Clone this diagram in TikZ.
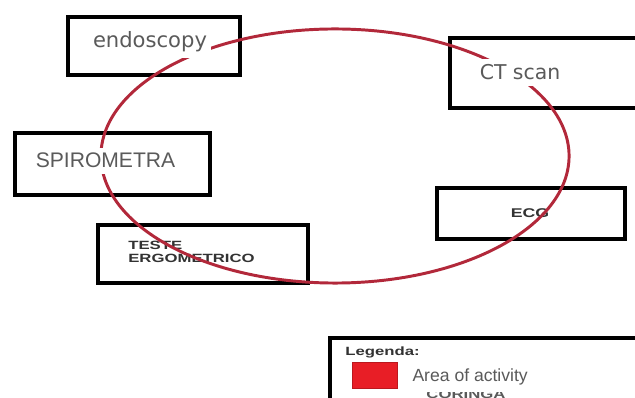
\documentclass[tikz,border=0pt]{standalone}
\usepackage{fontspec}
\setmainfont{Liberation Sans}
\newfontfamily\verdanaish{DejaVu Sans}
\newfontfamily\widebold[FakeStretch=1.4]{Liberation Sans Bold}
\usepackage{tikz}
\usetikzlibrary{positioning}
\usepackage{xcolor}
\definecolor{ringRed}{RGB}{178, 40, 58}
\definecolor{swatchRed}{RGB}{232, 30, 38}
\definecolor{textGray}{RGB}{90, 90, 90}
\definecolor{boldGray}{RGB}{50, 50, 50}

\begin{document}
\begin{tikzpicture}[x=0.025cm, y=-0.025cm,
    box/.style={draw=black, line width=2.3pt, inner sep=0pt},
    label/.style={text=textGray, inner sep=0pt},
    cover/.style={fill=white, inner xsep=3pt, inner ysep=4pt},
    tag/.style={text=boldGray, inner sep=0pt, font=\widebold\fontsize{8.5}{9.3}\selectfont}]
  \clip (0,0) rectangle (635,398);
  \fill[white] (0,0) rectangle (635,398);

  % Exam boxes
  \node[box, minimum width=4.3cm, minimum height=1.45cm] (endobox) at (154,46) {};
  \node[box, minimum width=4.875cm, minimum height=1.55cm] (spirobox) at (112.5,164) {};
  \node[box, minimum width=5.25cm, minimum height=1.75cm] (ctbox) at (555,73) {};
  \node[box, minimum width=4.7cm, minimum height=1.275cm] (ecgbox) at (531,213.5) {};
  \node[box, minimum width=5.25cm, minimum height=1.45cm] (testbox) at (203,254) {};

  % Labels under the ring
  \node[tag, anchor=base west, align=left] (testtext) at (128,263) {TESTE\\ERGOMETRICO};
  \node[tag, anchor=base, font=\widebold\fontsize{9}{10}\selectfont] (ecgtext) at (530,218) {ECG};

  % Area of activity
  \draw[ringRed, line width=2.1pt] (335,156) ellipse [x radius=5.85cm, y radius=3.175cm];

  % Labels over the ring
  \node[label, cover, anchor=base, font=\verdanaish\fontsize{15}{18}\selectfont] (endotext) at (150,48) {endoscopy};
  \node[label, cover, anchor=base, font=\verdanaish\fontsize{14.5}{17}\selectfont] (cttext) at (520,80) {CT scan};
  \node[label, cover, anchor=base, font=\fontsize{15}{18}\selectfont] (spirotext) at (105.5,168) {SPIROMETRA};

  % Legend
  \node[box, minimum width=8.25cm, minimum height=1.8cm] (legbox) at (495,374) {};
  \node[tag, anchor=base west] (legtitle) at (345,355) {Legenda:};
  \node[draw=swatchRed!80!black, fill=swatchRed, minimum width=1.125cm, minimum height=0.65cm] (swatch) at (374.5,375) {};
  \node[tag, anchor=base, text=textGray] (spare) at (466,398) {CORINGA};
  \node[label, cover, inner ysep=5.5pt, anchor=base west, font=\fontsize{12.5}{15}\selectfont] (legtext) at (408,381) {Area of activity};
\end{tikzpicture}
\end{document}
